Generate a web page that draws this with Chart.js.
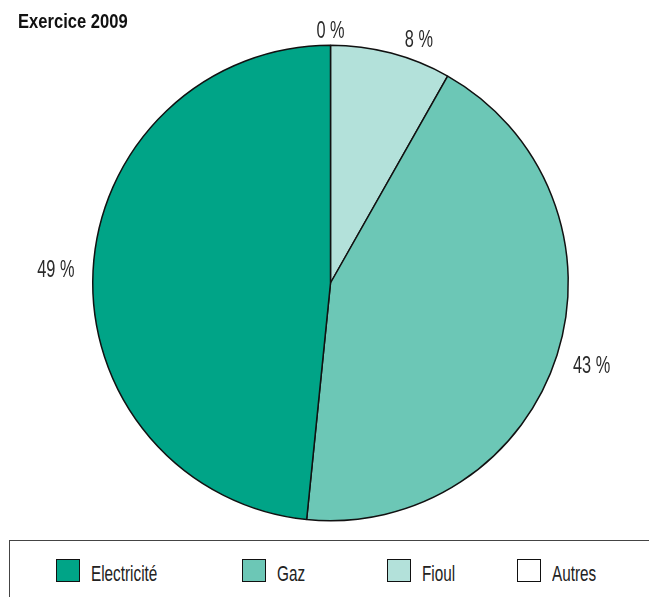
<!DOCTYPE html>
<html>
<head>
<meta charset="utf-8">
<script src="https://cdn.jsdelivr.net/npm/chart.js@4"></script>
<style>
  body { margin: 0; background: #fff; font-family: 'Liberation Sans', Arial, sans-serif; }
  #wrap { position: relative; width: 649px; height: 597px; overflow: hidden; }
  .sx { position: absolute; white-space: nowrap; transform-origin: 0 0; }
  #title { left: 18px; top: 12px; font-weight: bold; font-size: 19.5px; line-height: 19.5px; color: #111; transform: scaleX(0.85); }
  #legend { position: absolute; left: 9px; top: 540px; width: 660px; height: 80px; border: 1.5px solid #444; box-sizing: border-box; }
  .box { position: absolute; top: 559px; width: 24px; height: 23px; border: 1.5px solid #111; box-sizing: border-box; }
  .txt { top: 563px; font-size: 22.5px; line-height: 22.5px; color: #222; transform: scaleX(0.68); }
</style>
</head>
<body>
<div id="wrap">
  <canvas id="pie" width="649" height="540"></canvas>
  <div id="title" class="sx">Exercice 2009</div>
  <div id="legend"></div>
</div>
<script>
// données (ordre de la légende)
const categories = ['Electricité', 'Gaz', 'Fioul', 'Autres'];
const values = [48.4, 43.4, 8.2, 0];
const labelTexts = ['49 %', '43 %', '8 %', '0 %'];
const colors = ['#00a487', '#6cc7b6', '#b3e1da', '#ffffff'];

// légende en HTML
const boxX = [56, 242, 387, 517];
const wrap = document.getElementById('wrap');
categories.forEach((c, i) => {
    const b = document.createElement('div');
    b.className = 'box';
    b.style.left = boxX[i] + 'px';
    b.style.background = colors[i];
    wrap.appendChild(b);
    const t = document.createElement('div');
    t.className = 'sx txt';
    t.style.left = (boxX[i] + 35) + 'px';
    t.textContent = c;
    wrap.appendChild(t);
});

// le camembert tourne dans le sens horaire depuis midi : Autres, Fioul, Gaz, Electricité
const order = [3, 2, 1, 0];

const outLabels = {
    id: 'outLabels',
    afterDatasetsDraw(chart) {
        const ctx = chart.ctx;
        const meta = chart.getDatasetMeta(0);
        const minSep = 20 * Math.PI / 180;
        const sx = 0.71;
        let prev = null;
        ctx.save();
        ctx.font = '23px "Liberation Sans", Arial, sans-serif';
        ctx.fillStyle = '#2a2a2a';
        ctx.textAlign = 'center';
        ctx.textBaseline = 'middle';
        meta.data.forEach((arc, j) => {
            const p = arc.getProps(['x', 'y', 'startAngle', 'endAngle', 'outerRadius'], true);
            let a = (p.startAngle + p.endAngle) / 2;
            if (prev !== null && a - prev < minSep) a = prev + minSep; // évite le chevauchement
            prev = a;
            const dx = Math.cos(a), dy = Math.sin(a);
            const txt = labelTexts[order[j]];
            const w = ctx.measureText(txt).width * sx;
            const d = p.outerRadius + 15 + w * 0.6 * Math.abs(dx);
            ctx.save();
            ctx.translate(p.x + dx * d, p.y + dy * d);
            ctx.scale(sx, 1);
            ctx.fillText(txt, 0, 1);
            ctx.restore();
        });
        ctx.restore();
    }
};

new Chart(document.getElementById('pie'), {
    type: 'pie',
    data: {
        labels: order.map(i => categories[i]),
        datasets: [{
            data: order.map(i => values[i]),
            backgroundColor: order.map(i => colors[i]),
            borderColor: '#111',
            borderWidth: 1.5
        }]
    },
    options: {
        responsive: false,
        animation: false,
        layout: { padding: { left: 92, right: 80, top: 44, bottom: 18 } },
        plugins: { legend: { display: false }, tooltip: { enabled: false } }
    },
    plugins: [outLabels]
});
</script>
</body>
</html>
